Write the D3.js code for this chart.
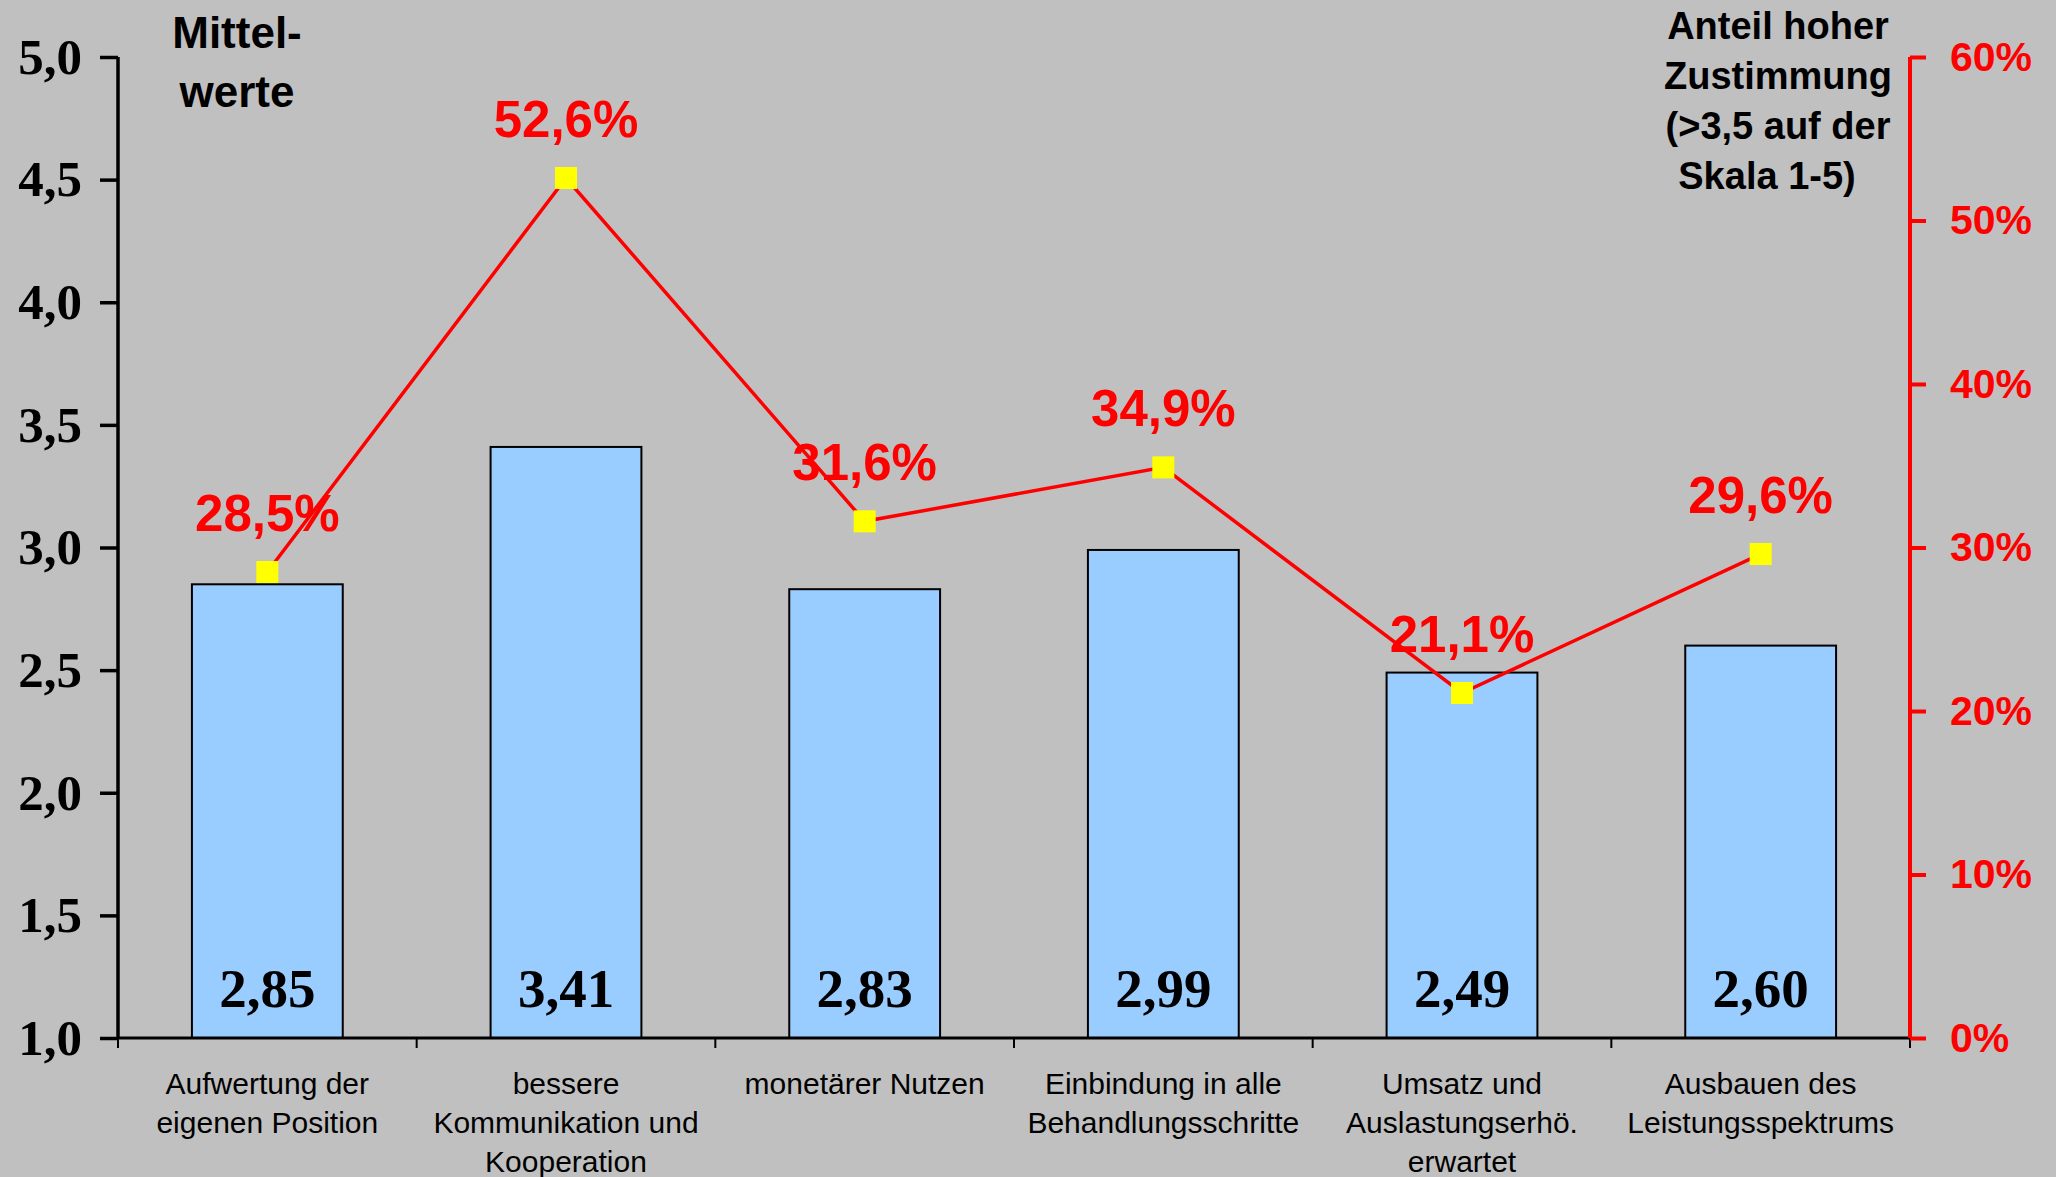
<!DOCTYPE html>
<html>
<head>
<meta charset="utf-8">
<script src="https://cdn.jsdelivr.net/npm/d3@7"></script>
<style>
  body { margin: 0; background: #c0c0c0; }
  svg { display: block; }
</style>
</head>
<body>
<div id="chart"></div>
<script>
// categories (multi-line labels)
const categories = [
    ["Aufwertung der", "eigenen Position"],
    ["bessere", "Kommunikation und", "Kooperation"],
    ["monetärer Nutzen"],
    ["Einbindung in alle", "Behandlungsschritte"],
    ["Umsatz und", "Auslastungserhö.", "erwartet"],
    ["Ausbauen des", "Leistungsspektrums"]
];
// Mittelwerte (bars, left axis)
const means = [2.85, 3.41, 2.83, 2.99, 2.49, 2.60];
// Anteil hoher Zustimmung in % (line, right axis)
const shares = [28.5, 52.6, 31.6, 34.9, 21.1, 29.6];
const leftTicks = [1.0, 1.5, 2.0, 2.5, 3.0, 3.5, 4.0, 4.5, 5.0];
const rightTicks = [0, 10, 20, 30, 40, 50, 60];

const W = 2056, H = 1177;
const margin = { top: 57, right: 146, bottom: 139, left: 118 };

const svg = d3.select("#chart").append("svg")
    .attr("width", W)
    .attr("height", H);

svg.append("rect").attr("width", W).attr("height", H).attr("fill", "#c0c0c0");

const x = d3.scaleBand()
    .domain(d3.range(categories.length))
    .range([margin.left, W - margin.right])
    .paddingInner(0.495)
    .paddingOuter(0.2475);

const y = d3.scaleLinear().domain([1, 5]).range([H - margin.bottom, margin.top]);
const y2 = d3.scaleLinear().domain([0, 60]).range([H - margin.bottom, margin.top]);

const comma = v => d3.format(".1f")(v).replace(".", ",");
const comma2 = v => d3.format(".2f")(v).replace(".", ",");

// bars
svg.selectAll(".bar")
    .data(means)
    .enter()
    .append("rect")
    .attr("class", "bar")
    .attr("x", (d, i) => x(i))
    .attr("y", d => y(d))
    .attr("width", x.bandwidth())
    .attr("height", d => y(1) - y(d))
    .attr("fill", "#99ccff")
    .attr("stroke", "#000")
    .attr("stroke-width", 2);

// bar value labels
svg.selectAll(".barlabel")
    .data(means)
    .enter()
    .append("text")
    .attr("x", (d, i) => x(i) + x.bandwidth() / 2)
    .attr("y", y(1) - 31)
    .attr("text-anchor", "middle")
    .style("font-family", "'Liberation Serif', 'Times New Roman', serif")
    .style("font-weight", "bold")
    .style("font-size", "55px")
    .text(d => comma2(d));

// left axis
const leftAxis = svg.append("g")
    .attr("transform", `translate(${margin.left},0)`)
    .call(d3.axisLeft(y).tickValues(leftTicks).tickFormat(comma).tickSize(18).tickPadding(18));
leftAxis.select(".domain").attr("stroke", "#000").attr("stroke-width", 3.5)
    .attr("d", `M0,${y(5)}V${y(1)}`);
leftAxis.selectAll(".tick line").attr("stroke", "#000").attr("stroke-width", 3.5);
leftAxis.selectAll(".tick text")
    .attr("fill", "#000")
    .style("font-family", "'Liberation Serif', 'Times New Roman', serif")
    .style("font-weight", "bold")
    .style("font-size", "51px");

// bottom axis with ticks between categories
const bottom = svg.append("g");
bottom.append("line")
    .attr("x1", margin.left).attr("x2", W - margin.right)
    .attr("y1", y(1)).attr("y2", y(1))
    .attr("stroke", "#000").attr("stroke-width", 3);
const step = x.step();
const bounds = d3.range(categories.length + 1).map(i => x(0) - x.paddingOuter() * step + i * step);
bottom.selectAll(".sep")
    .data(bounds)
    .enter()
    .append("line")
    .attr("x1", d => d).attr("x2", d => d)
    .attr("y1", y(1)).attr("y2", y(1) + 10)
    .attr("stroke", "#000").attr("stroke-width", 2);

// category labels
const catLabel = svg.selectAll(".cat")
    .data(categories)
    .enter()
    .append("text")
    .attr("class", "cat")
    .attr("text-anchor", "middle")
    .style("font-family", "'Liberation Sans', Arial, sans-serif")
    .style("font-size", "30px")
    .attr("fill", "#000");
catLabel.each(function (lines, i) {
    const t = d3.select(this);
    lines.forEach((l, j) => {
        t.append("tspan")
            .attr("x", x(i) + x.bandwidth() / 2)
            .attr("y", y(1) + 56 + j * 39)
            .text(l);
    });
});

// right axis
const rightAxis = svg.append("g")
    .attr("transform", `translate(${W - margin.right},0)`)
    .call(d3.axisRight(y2).tickValues(rightTicks).tickFormat(d => d + "%").tickSize(16).tickPadding(24));
rightAxis.select(".domain").attr("stroke", "#ff0000").attr("stroke-width", 4)
    .attr("d", `M0,${y2(60)}V${y2(0)}`);
rightAxis.selectAll(".tick line").attr("stroke", "#ff0000").attr("stroke-width", 4);
rightAxis.selectAll(".tick text")
    .attr("fill", "#ff0000")
    .style("font-family", "'Liberation Sans', Arial, sans-serif")
    .style("font-weight", "bold")
    .style("font-size", "41px");

// line
const line = d3.line()
    .x((d, i) => x(i) + x.bandwidth() / 2)
    .y(d => y2(d));
svg.append("path")
    .datum(shares)
    .attr("d", line)
    .attr("fill", "none")
    .attr("stroke", "#ff0000")
    .attr("stroke-width", 3.5);

const ms = 22;
svg.selectAll(".marker")
    .data(shares)
    .enter()
    .append("rect")
    .attr("x", (d, i) => x(i) + x.bandwidth() / 2 - ms / 2)
    .attr("y", d => y2(d) - ms / 2)
    .attr("width", ms)
    .attr("height", ms)
    .attr("fill", "#ffff00");

svg.selectAll(".pct")
    .data(shares)
    .enter()
    .append("text")
    .attr("x", (d, i) => x(i) + x.bandwidth() / 2)
    .attr("y", d => y2(d) - 41)
    .attr("text-anchor", "middle")
    .attr("fill", "#ff0000")
    .style("font-family", "'Liberation Sans', Arial, sans-serif")
    .style("font-weight", "bold")
    .style("font-size", "51px")
    .text(d => comma(d) + "%");

// axis titles
const leftTitle = svg.append("text")
    .attr("text-anchor", "middle")
    .style("font-family", "'Liberation Sans', Arial, sans-serif")
    .style("font-weight", "bold")
    .style("font-size", "44px");
["Mittel-", "werte"].forEach((l, j) => {
    leftTitle.append("tspan").attr("x", 237).attr("y", 48 + j * 59).text(l);
});

const rightTitle = svg.append("text")
    .attr("text-anchor", "middle")
    .style("font-family", "'Liberation Sans', Arial, sans-serif")
    .style("font-weight", "bold")
    .style("font-size", "38px");
["Anteil hoher", "Zustimmung", "(>3,5 auf der", "Skala 1-5)"].forEach((l, j) => {
    rightTitle.append("tspan").attr("x", j === 3 ? 1767 : 1778).attr("y", 39 + j * 50).text(l);
});
</script>
</body>
</html>
